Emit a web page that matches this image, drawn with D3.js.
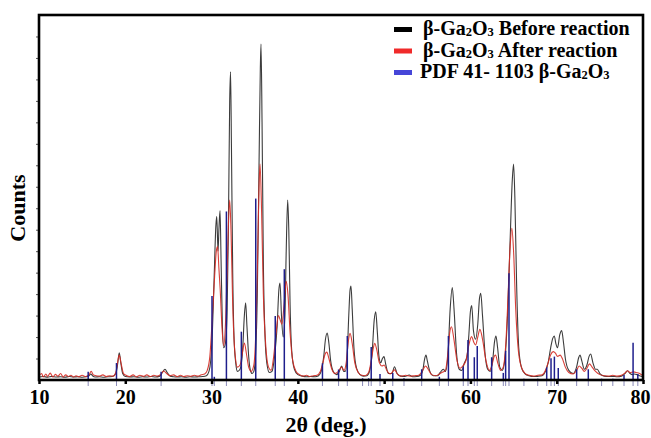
<!DOCTYPE html>
<html>
<head>
<meta charset="utf-8">
<script src="https://cdn.jsdelivr.net/npm/d3@7"></script>
<style>
  html, body { margin: 0; padding: 0; background: #fff; }
  svg { display: block; }
  text { font-family: "Liberation Serif", "Times New Roman", serif; font-weight: bold; fill: #000; }
</style>
</head>
<body>
<svg id="chart" width="651" height="438"></svg>
<script>
// ---------- DATA ----------
// β-Ga2O3 before reaction: [2θ, counts]
const beforeReaction = [
[10,14],[10.5,16],[11,13],[11.5,17],[12,14],[12.5,15],[13,13],[13.5,16],[14,14],[14.5,15],[15,13],[15.5,15],
[15.8,20],[16.0,28],[16.2,20],[16.5,14],[17,15],[17.5,13],[18,15],[18.5,16],[18.9,30],[19.1,70],[19.3,127],[19.5,75],[19.7,30],[20,16],
[20.5,14],[21,15],[21.5,13],[22,15],[22.5,14],[23,16],[23.5,14],[24,18],[24.3,35],[24.6,50],[24.9,32],[25.2,18],[25.6,15],[26,14],
[26.5,15],[27,13],[27.5,15],[28,14],[28.5,15],[29,16],[29.4,20],[29.7,40],[29.9,90],[30.1,230],[30.3,480],[30.5,720],[30.6,761],
[30.75,600],[30.85,700],[30.98,789],[31.1,560],[31.25,260],[31.4,150],[31.6,170],[31.8,320],[31.95,700],[32.1,1300],[32.2,1436],
[32.3,1100],[32.45,500],[32.6,200],[32.8,80],[33.0,40],[33.3,50],[33.6,140],[33.8,300],[33.95,360],[34.1,250],[34.3,110],[34.5,45],
[34.7,30],[34.9,40],[35.1,120],[35.3,400],[35.5,1000],[35.65,1450],[35.73,1565],[35.85,1200],[36.0,550],[36.2,200],[36.4,80],[36.7,35],
[37.0,40],[37.3,110],[37.6,250],[37.8,420],[37.93,452],[38.1,300],[38.3,200],[38.5,300],[38.65,600],[38.82,838],[38.95,700],[39.1,350],
[39.3,130],[39.6,50],[40.0,25],[40.5,18],[41,15],[41.5,16],[42,15],[42.4,20],[42.7,40],[43.0,110],[43.2,190],[43.4,219],[43.6,170],
[43.8,90],[44.1,40],[44.5,25],[44.8,40],[45.08,65],[45.3,40],[45.5,40],[45.7,100],[45.9,300],[46.05,420],[46.16,438],[46.3,330],
[46.5,150],[46.8,55],[47.2,25],[47.6,18],[48.0,20],[48.3,40],[48.6,120],[48.85,280],[49.03,318],[49.2,230],[49.4,110],[49.6,80],
[49.8,100],[49.98,109],[50.2,70],[50.5,30],[50.9,30],[51.2,62],[51.5,30],[51.9,18],[52.4,16],[52.9,23],[53.3,15],[53.8,16],[54.2,22],
[54.5,50],[54.7,100],[54.85,116],[55.0,90],[55.3,40],[55.7,20],[56.2,20],[56.5,35],[56.86,50],[57.1,40],[57.4,120],[57.65,330],
[57.9,431],[58.1,330],[58.4,120],[58.7,50],[59.0,45],[59.3,80],[59.6,109],[59.8,200],[60.0,320],[60.15,347],[60.35,230],[60.6,190],
[60.85,260],[61.05,380],[61.2,404],[61.4,300],[61.7,120],[62.0,50],[62.3,40],[62.6,100],[62.8,180],[62.96,205],[63.15,150],[63.4,60],
[63.7,45],[64.0,100],[64.3,300],[64.6,650],[64.85,930],[65.0,1006],[65.15,850],[65.35,450],[65.6,150],[65.9,60],[66.3,30],[66.8,20],
[67.3,16],[67.8,17],[68.3,20],[68.7,40],[69.0,80],[69.3,150],[69.55,195],[69.72,205],[69.9,170],[70.1,150],[70.35,210],[70.57,230],
[70.8,170],[71.0,100],[71.4,45],[71.9,30],[72.3,60],[72.55,105],[72.7,116],[72.9,90],[73.2,50],[73.5,70],[73.75,110],[73.93,121],
[74.2,80],[74.5,50],[74.7,50],[75.0,30],[75.5,18],[76,16],[76.5,17],[77,15],[77.5,18],[77.9,30],[78.2,43],[78.5,30],[78.8,25],
[79.0,28],[79.3,25],[79.6,20],[80,15]
];

// β-Ga2O3 after reaction: [2θ, counts]
const afterReaction = [
[10,18],[10.3,30],[10.5,14],[10.8,28],[11.0,16],[11.3,32],[11.6,14],[11.9,26],[12.2,18],[12.5,30],[12.8,14],[13.1,24],[13.4,16],
[13.7,22],[14.0,14],[14.3,20],[14.6,15],[15.0,22],[15.4,16],[15.8,25],[16.05,40],[16.3,24],[16.6,20],[17.0,18],[17.4,24],[17.8,16],
[18.2,20],[18.6,18],[18.9,35],[19.1,80],[19.3,116],[19.5,80],[19.8,30],[20.1,22],[20.5,16],[20.9,24],[21.3,15],[21.7,22],[22.1,17],
[22.5,24],[22.9,16],[23.3,22],[23.7,18],[24.1,26],[24.45,42],[24.8,30],[25.2,20],[25.6,24],[26,16],[26.4,22],[26.8,16],[27.2,20],
[27.6,17],[28.0,22],[28.4,18],[28.8,24],[29.2,28],[29.5,45],[29.8,110],[30.1,300],[30.35,480],[30.55,600],[30.7,621],[30.85,520],
[31.0,420],[31.2,250],[31.4,160],[31.6,250],[31.8,500],[31.95,720],[32.1,838],[32.25,700],[32.45,350],[32.7,130],[33.0,60],[33.3,70],
[33.55,120],[33.8,172],[34.05,120],[34.3,60],[34.6,40],[34.9,70],[35.15,250],[35.35,600],[35.5,900],[35.62,1006],[35.8,780],[36.0,400],
[36.3,150],[36.6,60],[36.9,45],[37.2,110],[37.5,230],[37.75,300],[37.95,280],[38.15,260],[38.4,350],[38.65,460],[38.85,400],[39.1,220],
[39.4,90],[39.8,40],[40.2,25],[40.6,18],[41.0,22],[41.4,16],[41.8,20],[42.2,22],[42.6,40],[42.9,80],[43.15,120],[43.35,130],[43.6,100],
[43.9,55],[44.3,30],[44.7,40],[45.05,60],[45.35,45],[45.6,80],[45.85,180],[46.05,217],[46.3,170],[46.6,80],[47.0,35],[47.4,22],
[47.8,20],[48.2,35],[48.5,90],[48.75,150],[48.9,171],[49.15,140],[49.45,80],[49.75,65],[50.0,70],[50.3,45],[50.7,28],[51.2,47],
[51.6,25],[52.0,18],[52.5,22],[53.0,18],[53.5,20],[54.0,22],[54.4,40],[54.8,65],[55.1,50],[55.5,25],[56.0,20],[56.4,28],[56.8,37],
[57.1,45],[57.4,130],[57.6,220],[57.8,248],[58.05,200],[58.4,100],[58.8,55],[59.2,70],[59.5,93],[59.8,160],[60.14,202],[60.4,175],
[60.6,163],[60.85,200],[61.1,236],[61.4,190],[61.8,90],[62.2,45],[62.5,70],[62.75,110],[62.9,116],[63.2,75],[63.5,45],[63.8,60],
[64.1,170],[64.35,380],[64.6,620],[64.8,707],[65.0,600],[65.25,330],[65.6,120],[66.0,50],[66.4,28],[66.8,22],[67.3,18],[67.8,22],
[68.3,24],[68.7,45],[69.0,80],[69.3,118],[69.6,132],[69.85,125],[70.1,110],[70.4,116],[70.7,95],[71.0,60],[71.4,35],[71.9,28],
[72.3,45],[72.6,65],[72.9,55],[73.2,40],[73.5,55],[73.8,75],[74.1,60],[74.5,40],[75.0,25],[75.5,20],[76.0,18],[76.5,22],[77.0,18],
[77.5,22],[77.9,32],[78.2,43],[78.5,35],[78.9,38],[79.3,34],[79.7,28],[80,20]
];

// PDF 41-1103 β-Ga2O3 reference lines: positions (2θ) and intensities (same count units)
const pdfPositions = [15.7,18.98,24.15,30.05,30.32,31.72,33.45,35.12,37.38,38.43,42.85,44.72,45.73,47.5,48.2,48.5,49.52,51.0,52.3,
  54.35,56.4,57.45,59.17,59.72,60.45,60.79,62.46,63.81,64.08,64.47,66.2,67.8,68.84,69.34,69.73,70.18,72.31,73.66,75.2,76.5,77.8,78.85,79.4];
const pdfIntensities = [39,79,39,391,15,785,225,845,298,516,78,49,205,8,8,154,28,33,8,
  50,15,205,62,186,106,158,106,33,136,497,6,6,59,101,109,56,50,50,6,6,23,174,28];

const xTicks = [10,20,30,40,50,60,70,80];
const legendLabels = [
  {pre:"\u03B2-Ga", s1:"2", mid:"O", s2:"3", post:" Before reaction"},
  {pre:"\u03B2-Ga", s1:"2", mid:"O", s2:"3", post:" After reaction"},
  {pre:"PDF 41- 1103 \u03B2-Ga", s1:"2", mid:"O", s2:"3", post:""}
];
const legendColors = ["#000000", "#f02a2a", "#4646d8"];

// ---------- DRAWING ----------
const svg = d3.select("#chart");
const L = 39, R = 643, T = 15, B = 380;

const x = d3.scaleLinear().domain([10, 80]).range([L, R]);
const y = d3.scaleLinear().domain([0, 1700]).range([B, T]);

const line = d3.line().x(d => x(d[0])).y(d => y(d[1])).curve(d3.curveMonotoneX);

const plot = svg.append("g");

// black curve
plot.append("path").datum(beforeReaction)
  .attr("d", line).attr("fill", "none")
  .attr("stroke", "#3c3c3c").attr("stroke-width", 1.1);

// red curve
plot.append("path").datum(afterReaction)
  .attr("d", line).attr("fill", "none")
  .attr("stroke", "#d42a22").attr("stroke-width", 1.1).attr("stroke-opacity", 0.9);

// PDF sticks: below-axis stubs
const pdf = pdfPositions.map((p, i) => [p, pdfIntensities[i]]);
plot.selectAll("line.stub").data(pdf).enter().append("line")
  .attr("class", "stub")
  .attr("x1", d => x(d[0])).attr("x2", d => x(d[0]))
  .attr("y1", y(0)).attr("y2", y(0) + 6)
  .attr("stroke", "#8a8ab8").attr("stroke-width", 1);
// PDF sticks above axis
plot.selectAll("line.stick").data(pdf).enter().append("line")
  .attr("class", "stick")
  .attr("x1", d => x(d[0])).attr("x2", d => x(d[0]))
  .attr("y1", y(0)).attr("y2", d => y(d[1]))
  .attr("stroke", "#1e1e8c").attr("stroke-width", 1.5);

// axes
const xAxis = d3.axisBottom(x).tickValues(xTicks).tickSize(4).tickPadding(6).tickFormat(d3.format("d"));
const gx = svg.append("g").attr("transform", `translate(0,${B})`).call(xAxis);
gx.select(".domain").remove();
gx.selectAll(".tick line").attr("stroke", "#000").attr("stroke-width", 2.5);
gx.selectAll(".tick text").attr("font-size", 20).attr("font-family", "Liberation Serif").attr("font-weight", "bold").attr("fill", "#000")
  .attr("dx", d => d === 80 ? -3 : 0);

const yAxis = d3.axisLeft(y).tickValues(d3.range(100, 1700, 100)).tickSize(3).tickFormat("");
const gy = svg.append("g").attr("transform", `translate(${L},0)`).call(yAxis);
gy.select(".domain").remove();
gy.selectAll(".tick line").attr("stroke", "#555").attr("stroke-width", 1);

// frame
svg.append("rect").attr("x", L).attr("y", T).attr("width", R - L).attr("height", B - T)
  .attr("fill", "none").attr("stroke", "#000").attr("stroke-width", 2.6);

// axis titles
svg.append("text").attr("x", 326).attr("y", 432).attr("text-anchor", "middle")
  .attr("font-size", 22).text("2\u03B8 (deg.)");
svg.append("text").attr("transform", "translate(25,208) rotate(-90)").attr("text-anchor", "middle")
  .attr("font-size", 22).text("Counts");

// legend
const lg = svg.append("g");
legendLabels.forEach((lab, i) => {
  const base = 35 + i * 21.5;
  lg.append("rect").attr("x", 394).attr("y", base - 8).attr("width", 18).attr("height", 5)
    .attr("fill", legendColors[i]);
  const t = lg.append("text").attr("x", i === 2 ? 420 : 423).attr("y", base).attr("font-size", 20);
  t.append("tspan").text(lab.pre);
  t.append("tspan").attr("font-size", 12.5).attr("dy", 1).text(lab.s1);
  t.append("tspan").attr("dy", -1).text(lab.mid);
  t.append("tspan").attr("font-size", 12.5).attr("dy", 1).text(lab.s2);
  t.append("tspan").attr("dy", -1).text(lab.post);
});
</script>
</body>
</html>
